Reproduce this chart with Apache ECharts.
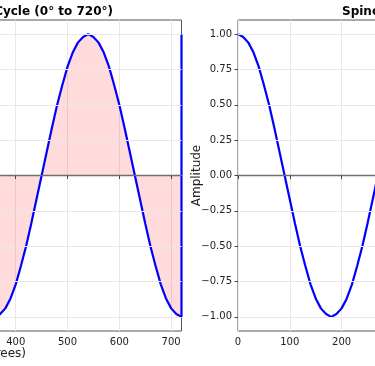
<!DOCTYPE html>
<html>
<head>
<meta charset="utf-8">
<script src="https://cdn.jsdelivr.net/npm/echarts@6/dist/echarts.min.js"></script>
<style>html,body{margin:0;padding:0;background:#fff;}#c{width:375px;height:366px;}</style>
</head>
<body>
<div id="c"></div>
<script>
// Left panel: angle (degrees) and amplitude (filled curve)
var leftAngles = [360,370,380,390,400,410,420,430,440,450,460,470,480,490,500,510,520,530,540,550,560,570,580,590,600,610,620,630,640,650,660,670,680,690,700,710,720,720];
var leftValues = [-1.00,-0.98,-0.94,-0.87,-0.77,-0.64,-0.50,-0.34,-0.17,0.00,0.17,0.34,0.50,0.64,0.77,0.87,0.94,0.98,1.00,0.98,0.94,0.87,0.77,0.64,0.50,0.34,0.17,0.00,-0.17,-0.34,-0.50,-0.64,-0.77,-0.87,-0.94,-0.98,-1.00,1.00];
// Right panel: angle (degrees) and amplitude
var rightAngles = [0,10,20,30,40,50,60,70,80,90,100,110,120,130,140,150,160,170,180,190,200,210,220,230,240,250,260,270,280,290,300,310,320,330,340,350,360];
var rightValues = [1.00,0.98,0.94,0.87,0.77,0.64,0.50,0.34,0.17,0.00,-0.17,-0.34,-0.50,-0.64,-0.77,-0.87,-0.94,-0.98,-1.00,-0.98,-0.94,-0.87,-0.77,-0.64,-0.50,-0.34,-0.17,0.00,0.17,0.34,0.50,0.64,0.77,0.87,0.94,0.98,1.00];
// Tick values
var xTicks = [0,100,200,300,400,500,600,700];
var yTicks = [-1,-0.75,-0.5,-0.25,0,0.25,0.5,0.75,1];
var leftTitle = 'Spinor Full Cycle (0° to 720°)';
var rightTitle = 'Spinor Component';
var xLabel = 'Rotation Angle (degrees)';
var yLabel = 'Amplitude';

function pairs(xs, ys){ return xs.map(function(x,i){ return [x, ys[i]]; }); }
function fmtY(v){ var s = Math.abs(v).toFixed(2); return (v < 0 ? '\u2212' : '') + s; }

var FONT = 'DejaVu Sans';
var gridColor = '#e8e8e8';

function makeX(idx){
  return {
    type:'value', gridIndex: idx, min:0, max:720, interval:100,
    axisLine:{show:false},
    axisTick:{show:true, customValues:xTicks, length:3.5, lineStyle:{color:'#444', width:1}},
    axisLabel:{customValues:xTicks, margin:6, fontFamily:FONT, fontSize:10, color:'#222'},
    splitLine:{show:true, lineStyle:{color:gridColor, width:1}}
  };
}
function makeY(idx, name){
  return {
    type:'value', gridIndex: idx, min:-1.1, max:1.1,
    name: name, nameLocation:'middle', nameGap:35, nameMoveOverlap:false,
    nameTextStyle:{fontFamily:FONT, fontSize:12, color:'#222'},
    axisLine:{show:false},
    axisTick:{show:true, customValues:yTicks, length:3.5, lineStyle:{color:'#444', width:1}},
    axisLabel:{customValues:yTicks, margin:6, fontFamily:FONT, fontSize:10, color:'#222', formatter:fmtY},
    splitLine:{show:false}
  };
}
function gridLines(idx){
  return {
    type:'line', xAxisIndex:idx, yAxisIndex:idx, data:[], z:1, silent:true,
    markLine:{silent:true, symbol:['none','none'], label:{show:false}, animation:false,
      lineStyle:{color:gridColor, width:1, type:'solid'},
      data: yTicks.map(function(v){ return {yAxis:v}; })}
  };
}
function zeroLine(){
  return {silent:true, symbol:['none','none'], label:{show:false}, animation:false,
    lineStyle:{color:'#6e6e6e', width:1.3, type:'solid'}, data:[{yAxis:0}]};
}

var chart = echarts.init(document.getElementById('c'), null, {renderer:'canvas'});
chart.setOption({
  animation:false,
  backgroundColor:'#fff',
  grid:[
    {left:-191.5, top:20, width:373, height:311, outerBoundsMode:'none', containLabel:false, show:true, borderColor:'#555', borderWidth:1, backgroundColor:'transparent'},
    {left:238, top:20, width:373, height:311, outerBoundsMode:'none', containLabel:false, show:true, borderColor:'#555', borderWidth:1, backgroundColor:'transparent'}
  ],
  xAxis:[makeX(0), makeX(1)],
  yAxis:[makeY(0, ''), makeY(1, yLabel)],
  graphic:[
    {type:'text', x:113, y:12, style:{text:leftTitle, font:'bold 12px "DejaVu Sans"', fill:'#000', textAlign:'right', textVerticalAlign:'middle'}},
    {type:'text', x:342, y:12, style:{text:rightTitle, font:'bold 12px "DejaVu Sans"', fill:'#000', textAlign:'left', textVerticalAlign:'middle'}},
    {type:'text', x:26, y:354, style:{text:xLabel, font:'12px "DejaVu Sans"', fill:'#222', textAlign:'right', textVerticalAlign:'middle'}}
  ],
  series:[
    gridLines(0), gridLines(1),
    {type:'line', xAxisIndex:0, yAxisIndex:0, data:pairs(leftAngles,leftValues), showSymbol:false, symbol:'none', z:3,
      lineStyle:{color:'#0000ff', width:2.2}, areaStyle:{color:'rgba(255,0,0,0.2)', origin:0},
      markLine:zeroLine()},
    {type:'line', xAxisIndex:1, yAxisIndex:1, data:pairs(rightAngles,rightValues), showSymbol:false, symbol:'none', z:3,
      lineStyle:{color:'#0000ff', width:2.2},
      markLine:zeroLine()}
  ]
});
</script>
</body>
</html>
